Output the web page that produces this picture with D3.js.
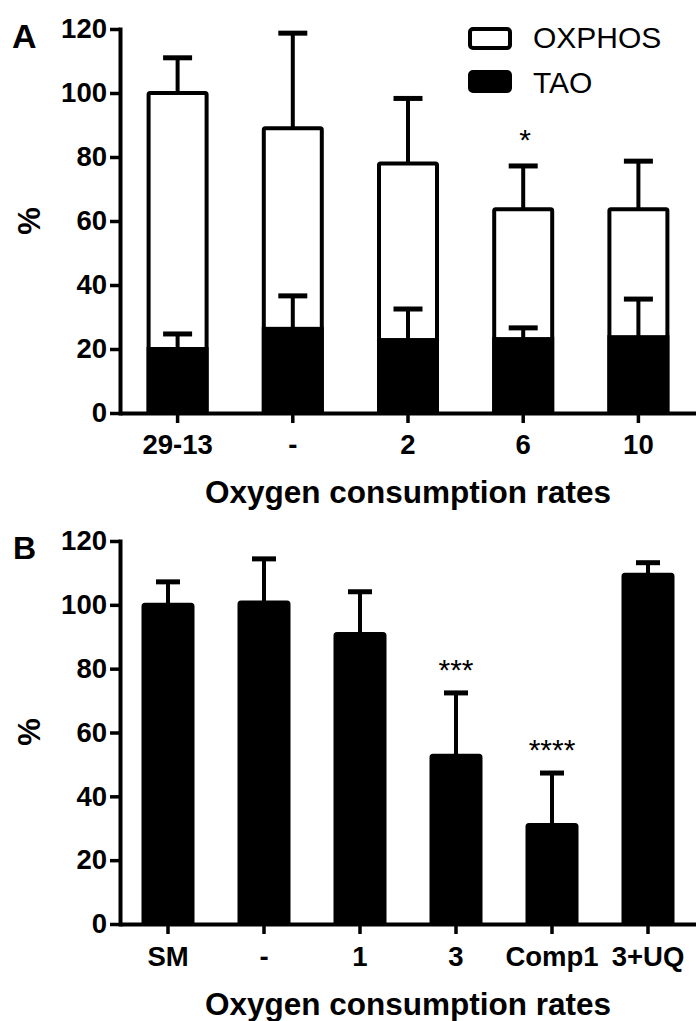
<!DOCTYPE html>
<html>
<head>
<meta charset="utf-8">
<script src="https://cdn.jsdelivr.net/npm/d3@7"></script>
<style>
  html, body { margin: 0; padding: 0; background: #fff; }
  svg { display: block; }
  text { font-family: "Liberation Sans", Arial, Helvetica, sans-serif; fill: #000; }
</style>
</head>
<body>
<svg id="chart" width="696" height="1021"></svg>
<script>
// ---------- Data ----------
// Panel A
const categoriesA = ["29-13", "-", "2", "6", "10"];
const totalA      = [100, 89, 78, 63.7, 63.7];     // OXPHOS + TAO (white bar top)
const totalErrA   = [11, 29.7, 20.3, 13.5, 15];
const taoA        = [20, 26.3, 22.8, 23.1, 23.7];  // TAO (black part)
const taoErrA     = [4.7, 10.3, 9.7, 3.5, 11.9];
const sigA        = ["", "", "", "*", ""];
const legendA     = ["OXPHOS", "TAO"];

// Panel B
const categoriesB = ["SM", "-", "1", "3", "Comp1", "3+UQ"];
const valuesB     = [100, 100.7, 90.9, 52.7, 31.0, 109.4];
const errB        = [7.2, 13.7, 13.2, 19.7, 16.3, 3.8];
const sigB        = ["", "", "", "***", "****", ""];

const yTicks      = [0, 20, 40, 60, 80, 100, 120];
const yLabel      = "%";
const xTitle      = "Oxygen consumption rates";

// ---------- Drawing ----------
const svg = d3.select("#chart");
const SW = 4;
const FONT = "'Liberation Sans', Arial, sans-serif";

function drawPanel(opt) {
  const g = svg.append("g");
  const x = d3.scaleBand().domain(opt.categories).range([120, 696])
    .paddingInner(opt.pad).paddingOuter(opt.pad / 2);
  const y = d3.scaleLinear().domain([0, 120]).range([opt.y0, opt.y1]);

  const ya = g.append("g").attr("transform", "translate(120,0)")
    .call(d3.axisLeft(y).tickValues(yTicks).tickSize(10).tickSizeOuter(0).tickPadding(3));
  ya.select(".domain").attr("stroke-width", SW).attr("stroke-linecap", "square");
  ya.selectAll(".tick line").attr("stroke-width", 3.5);
  ya.selectAll(".tick text").attr("font-size", 27.5).attr("font-weight", "bold")
    .attr("font-family", FONT);

  const bw = x.bandwidth();
  return { g, x, y, bw };
}

function xAxis(p, y0, pad) {
  const xa = p.g.append("g").attr("transform", `translate(0,${y0})`)
    .call(d3.axisBottom(p.x).tickSize(10).tickSizeOuter(0).tickPadding(pad));
  xa.select(".domain").attr("stroke-width", SW);
  xa.selectAll(".tick line").attr("stroke-width", 3.5);
  xa.selectAll(".tick text").attr("font-size", 27.5).attr("font-weight", "bold")
    .attr("font-family", FONT);
}

function errorBars(p, cats, vals, errs, capW) {
  const eg = p.g.append("g").attr("stroke", "#000").attr("stroke-width", SW);
  cats.forEach((c, i) => {
    const cx = p.x(c) + p.bw / 2;
    eg.append("line").attr("x1", cx).attr("x2", cx)
      .attr("y1", p.y(vals[i])).attr("y2", p.y(vals[i] + errs[i]));
    eg.append("line").attr("x1", cx - capW / 2).attr("x2", cx + capW / 2)
      .attr("y1", p.y(vals[i] + errs[i])).attr("y2", p.y(vals[i] + errs[i]))
      .attr("stroke-width", 5);
  });
}

// ----- Panel A -----
const A = drawPanel({ categories: categoriesA, pad: 1 - 58 / 115.2, y0: 413, y1: 29 });
errorBars(A, categoriesA, totalA, totalErrA, 29);
A.g.append("g").selectAll("rect").data(categoriesA).join("rect")
  .attr("x", d => A.x(d)).attr("width", A.bw)
  .attr("y", (d, i) => A.y(totalA[i])).attr("height", (d, i) => A.y(0) - A.y(totalA[i]))
  .attr("fill", "#fff").attr("stroke", "#000").attr("stroke-width", SW)
  .attr("rx", 1.5);
A.g.append("g").selectAll("rect").data(categoriesA).join("rect")
  .attr("x", d => A.x(d)).attr("width", A.bw)
  .attr("y", (d, i) => A.y(taoA[i])).attr("height", (d, i) => A.y(0) - A.y(taoA[i]))
  .attr("fill", "#000").attr("stroke", "#000").attr("stroke-width", SW);
errorBars(A, categoriesA, taoA, taoErrA, 29);
xAxis(A, 413, 11);

A.g.append("g").selectAll("text").data(categoriesA).join("text")
  .attr("x", d => A.x(d) + A.bw / 2 + 2)
  .attr("y", (d, i) => A.y(totalA[i] + totalErrA[i]) - 16)
  .attr("text-anchor", "middle").attr("font-size", 30)
  .text((d, i) => sigA[i]);

const leg = A.g.append("g");
legendA.forEach((name, i) => {
  leg.append("rect").attr("x", 470).attr("y", 29 + i * 43).attr("width", 40).attr("height", 19)
    .attr("rx", 3).attr("fill", i === 0 ? "#fff" : "#000")
    .attr("stroke", "#000").attr("stroke-width", SW);
  leg.append("text").attr("x", 533).attr("y", 48 + i * 45)
    .attr("font-size", 30).text(name);
});

A.g.append("text").attr("x", 408).attr("y", 503).attr("text-anchor", "middle")
  .attr("font-size", 31.5).attr("font-weight", "bold").text(xTitle);
A.g.append("text").attr("transform", "translate(40,221) rotate(-90)")
  .attr("text-anchor", "middle").attr("font-size", 31).attr("font-weight", "bold").text(yLabel);
A.g.append("text").attr("x", 12).attr("y", 48)
  .attr("font-size", 34).attr("font-weight", "bold").text("A");

// ----- Panel B -----
const B = drawPanel({ categories: categoriesB, pad: 1 - 49 / 96, y0: 924, y1: 541 });
errorBars(B, categoriesB, valuesB, errB, 24);
B.g.append("g").selectAll("rect").data(categoriesB).join("rect")
  .attr("x", d => B.x(d)).attr("width", B.bw)
  .attr("y", (d, i) => B.y(valuesB[i])).attr("height", (d, i) => B.y(0) - B.y(valuesB[i]))
  .attr("fill", "#000").attr("stroke", "#000").attr("stroke-width", SW).attr("rx", 1.5);
xAxis(B, 924, 12);

B.g.append("g").selectAll("text").data(categoriesB).join("text")
  .attr("x", d => B.x(d) + B.bw / 2)
  .attr("y", (d, i) => B.y(valuesB[i] + errB[i]) - 13)
  .attr("text-anchor", "middle").attr("font-size", 30)
  .text((d, i) => sigB[i]);

B.g.append("text").attr("x", 408).attr("y", 1015).attr("text-anchor", "middle")
  .attr("font-size", 31.5).attr("font-weight", "bold").text(xTitle);
B.g.append("text").attr("transform", "translate(40,732) rotate(-90)")
  .attr("text-anchor", "middle").attr("font-size", 31).attr("font-weight", "bold").text(yLabel);
B.g.append("text").attr("x", 13).attr("y", 559)
  .attr("font-size", 32).attr("font-weight", "bold").text("B");
</script>
</body>
</html>
